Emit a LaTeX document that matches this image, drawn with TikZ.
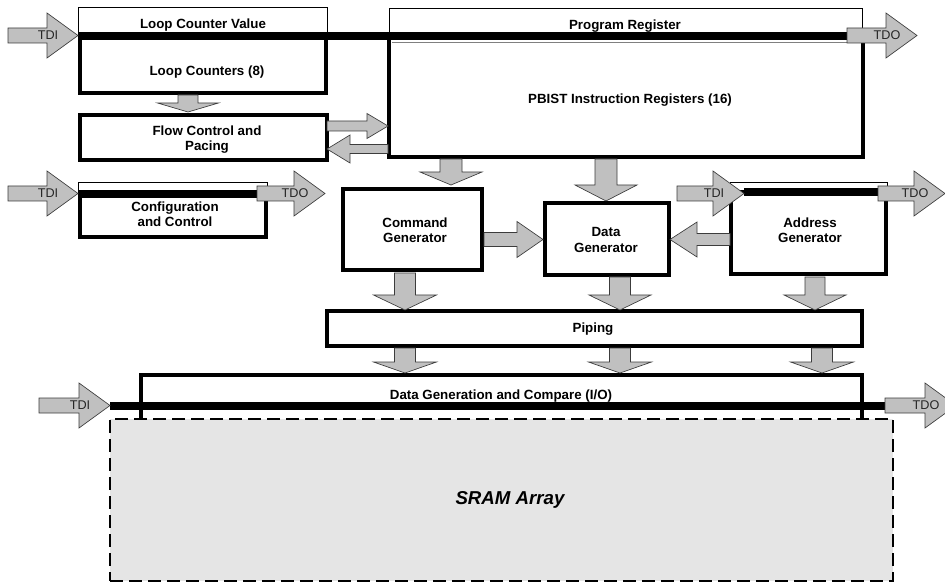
\documentclass[tikz,border=0pt]{standalone}
\usepackage{fontspec}
\setmainfont{Liberation Sans}
\usetikzlibrary{fit}
\definecolor{arrowfill}{RGB}{192,192,192}
\definecolor{arrowline}{RGB}{60,60,60}
\definecolor{sramfill}{RGB}{229,229,229}
\tikzset{
  thinbox/.style={draw=black, line width=0.75pt, inner sep=0pt, outer sep=0pt, fill=white},
  thickbox/.style={draw=black, line width=3pt, inner sep=0pt, outer sep=0pt, fill=white, line join=miter},
  srambox/.style={draw=black, line width=1.5pt, dash pattern=on 9.75pt off 4.5pt, fill=sramfill, inner sep=0pt, outer sep=0pt},
  bus/.style={line width=6pt, line cap=butt},
  fatarrow/.style={draw=arrowline, line width=0.5pt, fill=arrowfill, line join=miter},
  lbl/.style={font=\fontsize{10}{11.5}\selectfont\bfseries, align=center, inner sep=0pt},
  tdlbl/.style={font=\fontsize{9.5}{11}\selectfont, text=black!85, inner sep=0pt},
}
% name, tip x, tip y, angle, total length, shaft half width, head half width, head length
\newcommand\fatarr[8]{%
  \begin{scope}[shift={(#2,#3)}, rotate=#4]
    \draw[fatarrow] (0,0) -- (-#8,#7) -- (-#8,#6) -- (-#5,#6) -- (-#5,-#6) -- (-#8,-#6) -- (-#8,-#7) -- cycle;
    \coordinate (#1) at (0,0);
  \end{scope}}
% name, tip x, tip y, total length, label
\newcommand\tdarr[5]{%
  \fatarr{#1}{#2}{#3}{0}{#4}{7.5}{22.5}{31}
  \node[tdlbl] (#1l) at (#2-30,#3) {#5};}
\begin{document}
\begin{tikzpicture}[x=0.75pt,y=-0.75pt]
\useasboundingbox (0,0) rectangle (945,584);
\clip (0,0) rectangle (945,584);

% thin scan-register boxes
\node[thinbox, fit={(78,8) (327,41)}] (lcv) {};
\node[thinbox, fit={(389,9) (862,41)}] (preg) {};
\node[thinbox, fit={(78,183) (267,195)}] (cfgreg) {};
\node[thinbox, fit={(730,183) (887.5,196)}] (adrreg) {};

% thick functional blocks
\node[thickbox, fit={(79.5,37) (325.5,93.5)}] (lc) {};
\node[thickbox, fit={(79.5,115) (327,160.5)}] (flow) {};
\node[thickbox, fit={(389,37) (863,157)}] (pbist) {};
\node[thickbox, fit={(79.5,194) (265.5,237.5)}] (cfg) {};
\node[thickbox, fit={(343,189.5) (482,270.5)}] (cmd) {};
\node[thickbox, fit={(545,203) (668.5,275)}] (data) {};
\node[thickbox, fit={(730.5,192.5) (885.5,274.5)}] (addr) {};
\node[thickbox, fit={(327,311.5) (862,346)}] (pipe) {};
\node[fill=white, inner sep=0pt, outer sep=0pt, fit={(140.5,375) (862,419)}] (dgc) {};
\draw[line width=3pt, line join=miter] (dgc.south west) -- (dgc.north west) -- (dgc.north east) -- (dgc.south east);

% SRAM array
\node[srambox, fit={(110,419) (893,581)}] (sram) {};

% texts
\node[lbl] (tlcv) at (203,25) {Loop Counter Value};
\node[lbl] (tpreg) at (625,26) {Program Register};
\node[lbl] (tlc) at (207,72) {Loop Counters (8)};
\node[lbl] (tflow) at (207,139.5) {Flow Control and\\Pacing};
\node[lbl] (tpbist) at (630,100) {PBIST Instruction Registers (16)};
\node[lbl] (tcfg) at (175,214.5) {Configuration\\and Control};
\node[lbl] (tcmd) at (415,230.5) {Command\\Generator};
\node[lbl] (tdata) at (606,240) {Data\\Generator};
\node[lbl] (taddr) at (810,230.5) {Address\\Generator};
\node[lbl] (tpipe) at (593,329) {Piping};
\node[lbl] (tdgc) at (501,396) {Data Generation and Compare (I/O)};
\node[font=\fontsize{14}{16}\selectfont\bfseries\itshape, inner sep=0pt] (tsram) at (510,500) {SRAM Array};

% scan buses
\coordinate (b1a) at (78,36.5);   \coordinate (b1b) at (850,36.5);
\coordinate (b2a) at (78,194);    \coordinate (b2b) at (260,194);
\coordinate (b3a) at (744,192.5); \coordinate (b3b) at (881,192.5);
\coordinate (b4a) at (110,406);   \coordinate (b4b) at (888,406);
\draw[bus] (b1a) -- (b1b);
\draw[gray, line width=0.6pt] (392,42) -- (847,42);
\draw[bus] (b2a) -- (b2b);
\draw[bus] (b3a) -- (b3b);
\draw[bus] (b4a) -- (b4b);

% block arrows between units
\fatarr{a1}{188}{112}{-90}{17}{10}{30.5}{9}
\fatarr{a2}{388}{126}{0}{61}{5}{12.5}{21}
\fatarr{a3}{327}{149}{180}{61}{4.5}{14}{23}
\fatarr{a4}{451}{185}{-90}{26}{11}{31}{13}
\fatarr{a5}{606}{201}{-90}{42}{11}{31}{16}
\fatarr{a6}{543}{239.5}{0}{59}{7}{18}{26}
\fatarr{a7}{670}{239.5}{180}{60}{6}{17.5}{27}
\fatarr{a8}{405}{310}{-90}{37}{10.5}{31.5}{15}
\fatarr{a9}{620}{310}{-90}{33}{10.5}{31}{15}
\fatarr{a10}{815}{310}{-90}{33}{10}{31}{15}
\fatarr{a11}{405}{373}{-90}{25}{10.5}{31.5}{11}
\fatarr{a12}{620}{373}{-90}{25}{10.5}{31.5}{11}
\fatarr{a13}{822}{373}{-90}{25}{10.5}{31.5}{11}

% TDI / TDO scan arrows
\tdarr{tdi1}{78}{35.5}{70}{TDI}
\tdarr{tdo1}{917}{35.5}{70}{TDO}
\tdarr{tdi2}{78}{193.5}{70}{TDI}
\tdarr{tdo2}{325}{193.5}{68}{TDO}
\tdarr{tdi3}{744}{193.5}{67}{TDI}
\tdarr{tdo3}{945}{193.5}{67}{TDO}
\tdarr{tdi4}{110}{405.5}{71}{TDI}
\tdarr{tdo4}{956}{405.5}{71}{TDO}
\end{tikzpicture}
\end{document}
